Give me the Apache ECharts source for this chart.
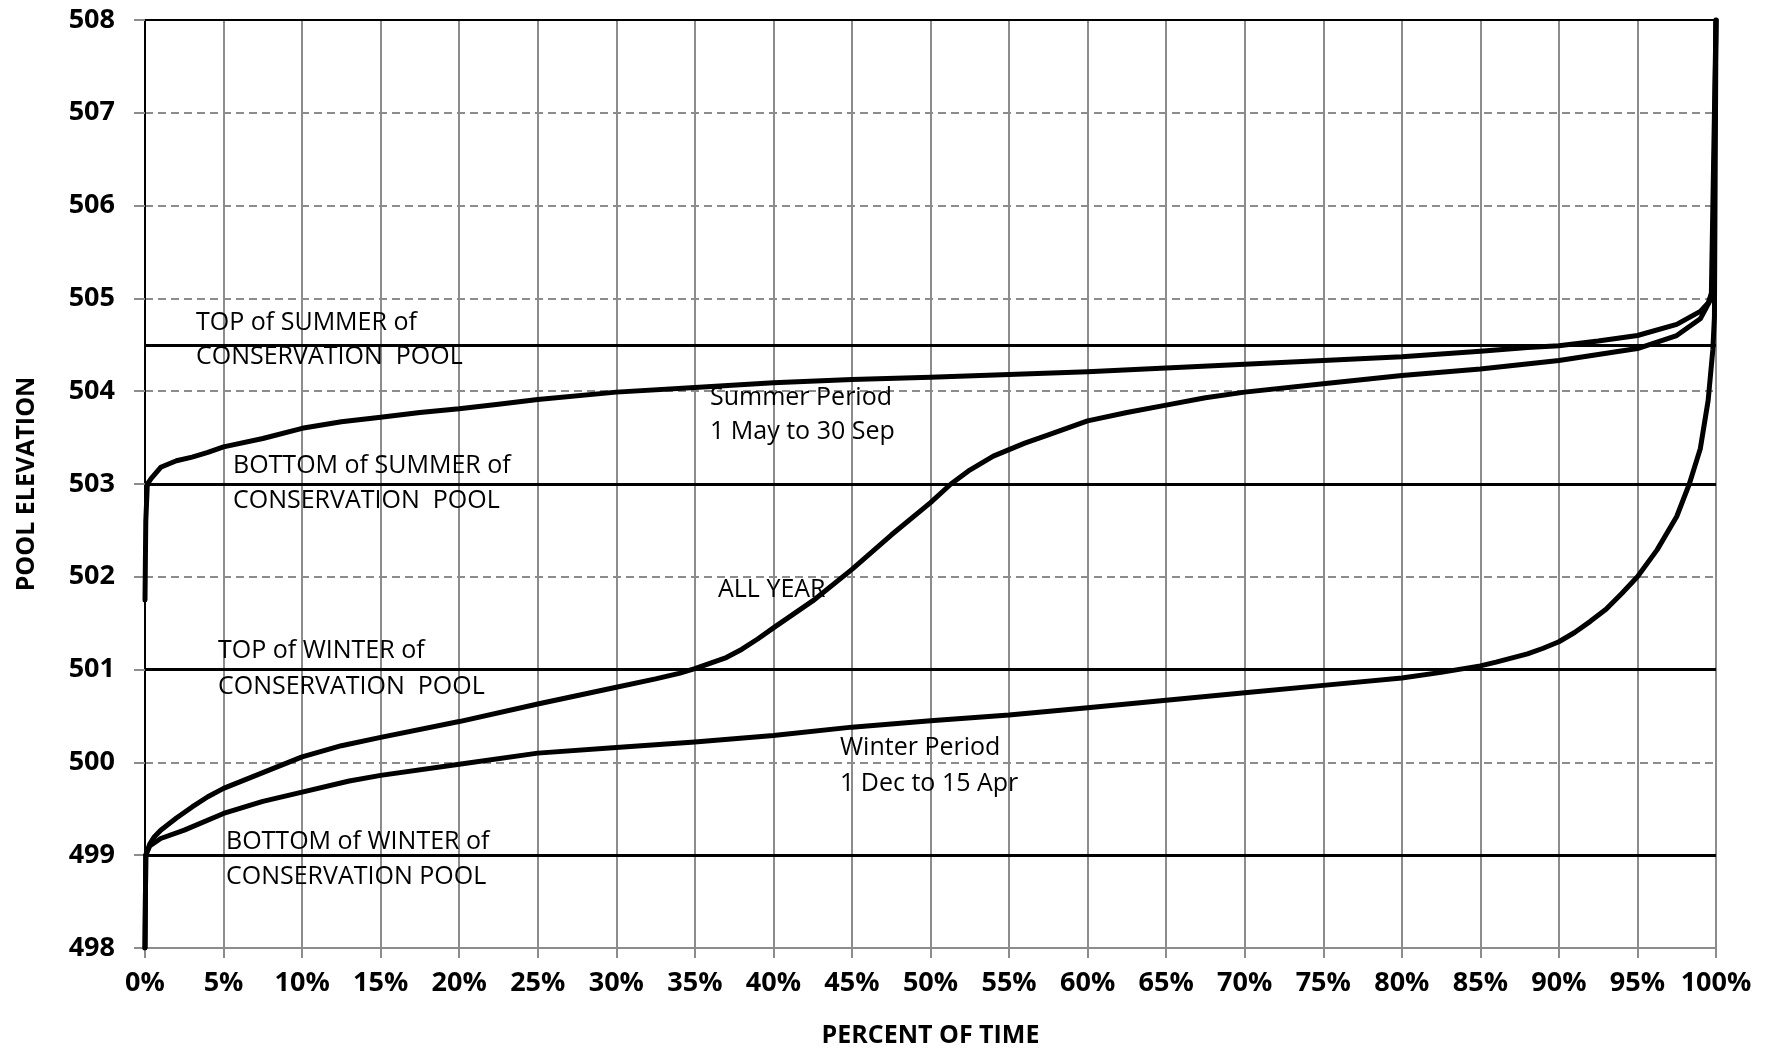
<!DOCTYPE html>
<html>
<head>
<meta charset="utf-8">
<script src="https://cdn.jsdelivr.net/npm/echarts/dist/echarts.min.js"></script>
<style>
  html, body { margin: 0; padding: 0; background: #ffffff; }
  #chart { width: 1772px; height: 1050px; }
</style>
</head>
<body>
<div id="chart"></div>
<script>
// Pool elevation duration curves (percent of time the pool is at or below an elevation)

// Summer period, 1 May to 30 Sep
const summerPct  = [0, 0.05, 0.15, 0.4, 1, 2, 3, 4, 5, 7.5, 10, 12.5, 15, 17.5, 20, 22.5, 25, 30, 35, 40, 45, 50, 55, 60, 65, 70, 75, 80, 85, 88, 90, 92.5, 95, 97.5, 99, 99.5, 99.8, 100];
const summerElev = [501.75, 502.6, 503.0, 503.06, 503.18, 503.25, 503.29, 503.34, 503.4, 503.49, 503.6, 503.67, 503.72, 503.77, 503.81, 503.86, 503.91, 503.99, 504.04, 504.09, 504.125, 504.15, 504.18, 504.21, 504.25, 504.29, 504.33, 504.37, 504.43, 504.47, 504.49, 504.54, 504.6, 504.72, 504.86, 504.95, 505.1, 508];

// All year
const allYearPct  = [0, 0.05, 0.3, 0.6, 1, 2, 3, 4, 5, 7.5, 10, 12.5, 15, 20, 25, 30, 32.5, 34, 35, 36, 37, 38, 39, 40, 42.5, 45, 47.5, 50, 51.3, 52.5, 54, 55, 56, 57.5, 60, 62.5, 65, 67.5, 70, 75, 80, 85, 90, 95, 97.5, 99, 99.7, 100];
const allYearElev = [498, 499.0, 499.12, 499.2, 499.27, 499.4, 499.52, 499.63, 499.72, 499.89, 500.06, 500.18, 500.27, 500.44, 500.63, 500.81, 500.9, 500.96, 501.01, 501.07, 501.13, 501.22, 501.33, 501.45, 501.74, 502.08, 502.45, 502.8, 503.0, 503.15, 503.3, 503.37, 503.44, 503.53, 503.68, 503.77, 503.85, 503.93, 503.99, 504.08, 504.17, 504.24, 504.33, 504.46, 504.6, 504.78, 505.0, 508];

// Winter period, 1 Dec to 15 Apr
const winterPct  = [0, 0.05, 0.3, 1, 2.5, 5, 7.5, 10, 13, 15, 20, 25, 30, 35, 40, 45, 50, 55, 60, 65, 70, 75, 80, 82.5, 85, 86, 88, 89, 90, 91, 92, 93, 94, 95, 96.25, 97.5, 98.3, 99, 99.5, 99.8, 99.9, 100];
const winterElev = [498, 499.0, 499.1, 499.18, 499.27, 499.45, 499.58, 499.68, 499.8, 499.86, 499.98, 500.1, 500.16, 500.22, 500.29, 500.38, 500.45, 500.51, 500.59, 500.67, 500.75, 500.83, 500.91, 500.97, 501.04, 501.08, 501.17, 501.23, 501.3, 501.4, 501.52, 501.65, 501.82, 502.0, 502.29, 502.65, 503.0, 503.38, 503.9, 504.45, 504.8, 508];

// Conservation pool limits (top/bottom of summer and winter pools)
const poolLimits = [504.5, 503, 501, 499];

// Axis ranges and ticks
const pctMin = 0, pctMax = 100, pctStep = 5;
const elevMin = 498, elevMax = 508, elevStep = 1;

const zip = (xs, ys) => xs.map((x, i) => [x, ys[i]]);

const GRID_GRAY = '#8c8c8c';
const FONT = '"Open Sans", "Liberation Sans", sans-serif';

// Curve and pool labels (text and placement in pixels)
const notes = [
  ['TOP of SUMMER of', 196, 332],
  ['CONSERVATION  POOL', 196, 366],
  ['BOTTOM of SUMMER of', 233, 475],
  ['CONSERVATION  POOL', 233, 510],
  ['Summer Period', 710, 407],
  ['1 May to 30 Sep', 710, 441],
  ['ALL YEAR', 718, 599],
  ['TOP of WINTER of', 218, 660],
  ['CONSERVATION  POOL', 218, 696],
  ['BOTTOM of WINTER of', 226, 851],
  ['CONSERVATION POOL', 226, 886],
  ['Winter Period', 840, 757],
  ['1 Dec to 15 Apr', 840, 793]
];

const curveStyle = { color: '#000', width: 5, join: 'round', cap: 'round' };

const chart = echarts.init(document.getElementById('chart'), null, { renderer: 'canvas' });

chart.setOption({
  animation: false,
  backgroundColor: '#ffffff',
  grid: { left: 145, right: 56, top: 20, bottom: 102, containLabel: false, outerBoundsMode: 'none' },
  xAxis: [
    {
      type: 'value', min: pctMin, max: pctMax, interval: pctStep,
      name: 'PERCENT OF TIME', nameLocation: 'middle', nameGap: 75,
      nameTextStyle: { fontFamily: FONT, fontWeight: 'bold', fontSize: 25, color: '#000' },
      axisLine: { show: true, lineStyle: { color: GRID_GRAY, width: 2 } },
      axisTick: { show: true, length: 10, lineStyle: { color: GRID_GRAY, width: 2 } },
      axisLabel: { formatter: '{value}%', margin: 22, fontFamily: FONT, fontWeight: 'bold', fontSize: 27, color: '#000' },
      splitLine: { show: true, lineStyle: { color: GRID_GRAY, width: 2, type: 'solid' } }
    },
    {
      type: 'value', min: pctMin, max: pctMax, position: 'top',
      axisLine: { show: true, lineStyle: { color: '#000', width: 2 } },
      axisTick: { show: false }, axisLabel: { show: false }, splitLine: { show: false }
    }
  ],
  yAxis: [
    {
      type: 'value', min: elevMin, max: elevMax, interval: elevStep,
      name: 'POOL ELEVATION', nameLocation: 'middle', nameGap: 106, nameRotate: 90,
      nameTextStyle: { fontFamily: FONT, fontWeight: 'bold', fontSize: 25, color: '#000' },
      axisLine: { show: true, lineStyle: { color: GRID_GRAY, width: 2 } },
      axisTick: { show: true, length: 11, lineStyle: { color: GRID_GRAY, width: 2 } },
      axisLabel: { margin: 30, fontFamily: FONT, fontWeight: 'bold', fontSize: 27, color: '#000' },
      splitLine: { show: true, lineStyle: { color: GRID_GRAY, width: 2, type: [8, 5] } }
    },
    {
      type: 'value', min: elevMin, max: elevMax, position: 'right',
      axisLine: { show: true, lineStyle: { color: '#000', width: 2 } },
      axisTick: { show: false }, axisLabel: { show: false }, splitLine: { show: false }
    }
  ],
  series: [
    {
      name: 'Conservation pool limits', type: 'line', data: [],
      markLine: {
        silent: true, symbol: 'none', label: { show: false },
        lineStyle: { color: '#000', width: 3, type: 'solid' },
        data: poolLimits.map(v => ({ yAxis: v }))
      }
    },
    { name: 'Winter Period', type: 'line', showSymbol: false, symbol: 'none', lineStyle: curveStyle, data: zip(winterPct, winterElev) },
    { name: 'ALL YEAR', type: 'line', showSymbol: false, symbol: 'none', lineStyle: curveStyle, data: zip(allYearPct, allYearElev) },
    { name: 'Summer Period', type: 'line', showSymbol: false, symbol: 'none', lineStyle: curveStyle, data: zip(summerPct, summerElev) }
  ],
  graphic: notes.map(([text, x, base]) => ({
    type: 'text', x: x, y: base - 9, silent: true, z: 10,
    style: { text: text, fill: '#000', font: '25px ' + FONT, textAlign: 'left', textVerticalAlign: 'middle' }
  }))
});
</script>
</body>
</html>
